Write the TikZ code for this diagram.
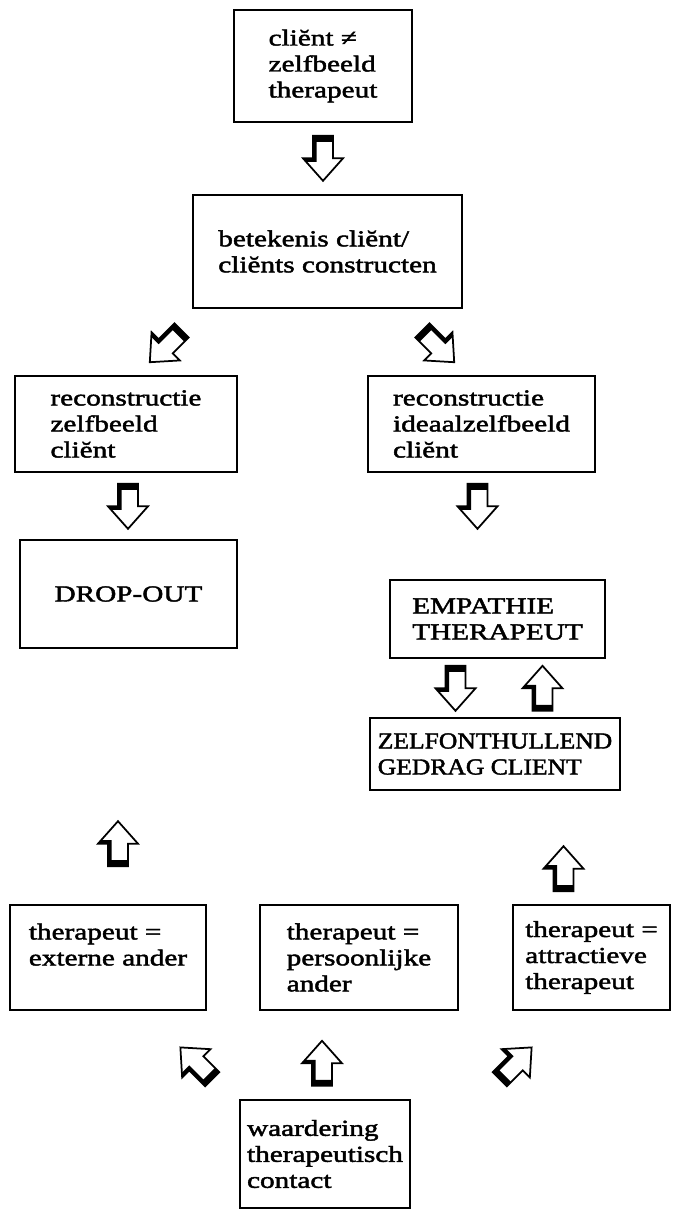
\documentclass[tikz,border=0pt]{standalone}
\usepackage{fontspec}
\setmainfont{Liberation Serif}[FakeStretch=1.28,FakeBold=2]
\usetikzlibrary{calc}

\begin{document}
\begin{tikzpicture}[x=0.02cm,y=-0.02cm,
    every node/.style={font=\fontsize{13}{14.8}\selectfont},
    box/.style={draw,line width=1.5pt,align=left,inner sep=4pt},
    blockarrow/.pic={
      \fill (-10,-22.5)--(10,-22.5)--(10,-16.5)--(-6.5,-16.5)--(-6.5,3.5)--(-16.9,3.5)--(-20,0)--(-10,0)--cycle;
      \draw[line width=1pt] (-10,-22.5)--(10,-22.5)--(10,0)--(20,0)--(0,22.5)--(-20,0)--(-10,0)--cycle;
    }]
  \useasboundingbox (0,0) rectangle (690,1213);
  \node[box,minimum width=3.56cm,minimum height=2.24cm] (clash) at (323,66) {cliĕnt ≠\\zelfbeeld\\therapeut};
  \node[box,minimum width=5.38cm,minimum height=2.26cm] (betek) at (327.5,251.5) {betekenis cliĕnt/\\cliĕnts constructen};
  \node[box,minimum width=4.44cm,minimum height=1.92cm] (reczelf) at (126,424) {reconstructie\\zelfbeeld\\cliĕnt};
  \node[box,minimum width=4.54cm,minimum height=1.92cm] (recideaal) at (481.5,424) {reconstructie\\ideaalzelfbeeld\\cliĕnt};
  \node[box,minimum width=4.34cm,minimum height=2.16cm] (dropout) at (128.5,594) {DROP-OUT};
  \node[box,minimum width=4.3cm,minimum height=1.56cm] (empathie) at (497.5,619) {EMPATHIE\\THERAPEUT};
  \node[box,minimum width=5cm,minimum height=1.44cm,font=\fontsize{13}{14.8}\selectfont\addfontfeatures{FakeStretch=1.12}] (zelfont) at (495,754) {ZELFONTHULLEND\\GEDRAG CLIENT};
  \node[box,minimum width=3.92cm,minimum height=2.1cm] (extern) at (108,957.5) {therapeut =\\externe ander\\\mbox{}};
  \node[box,minimum width=3.96cm,minimum height=2.1cm] (persoon) at (359,957.5) {therapeut =\\persoonlijke\\ander};
  \node[box,minimum width=3.14cm,minimum height=2.1cm] (attract) at (591.5,957.5) {therapeut =\\attractieve\\therapeut};
  \node[box,minimum width=3.32cm,minimum height=2.16cm] (waard) at (325,1154) {waardering\\therapeutisch\\contact};
  \pic at ($(clash.south)+(0,35)$) {blockarrow};
  \pic[rotate=-45] at ($(betek.south west)+(-26,37)$) {blockarrow};
  \pic[xscale=-1,rotate=-45] at ($(betek.south east)+(-25,37)$) {blockarrow};
  \pic at ($(reczelf.south)+(2,33)$) {blockarrow};
  \pic at ($(recideaal.south)+(-4,33)$) {blockarrow};
  \pic at ($(empathie.south)+(-42,29)$) {blockarrow};
  \pic[xscale=-1,rotate=180] at ($(empathie.south)+(45,29)$) {blockarrow};
  \pic[xscale=-1,rotate=180] at ($(extern.north)+(10,-60)$) {blockarrow};
  \pic[xscale=-1,rotate=180] at ($(attract.north)+(-28,-35)$) {blockarrow};
  \pic[xscale=-1,rotate=135] at ($(extern.south east)+(-11,52)$) {blockarrow};
  \pic[xscale=-1,rotate=180] at ($(persoon.south)+(-37,52)$) {blockarrow};
  \pic[xscale=-1,rotate=-135] at ($(attract.south west)+(4,52)$) {blockarrow};
\end{tikzpicture}
\end{document}
